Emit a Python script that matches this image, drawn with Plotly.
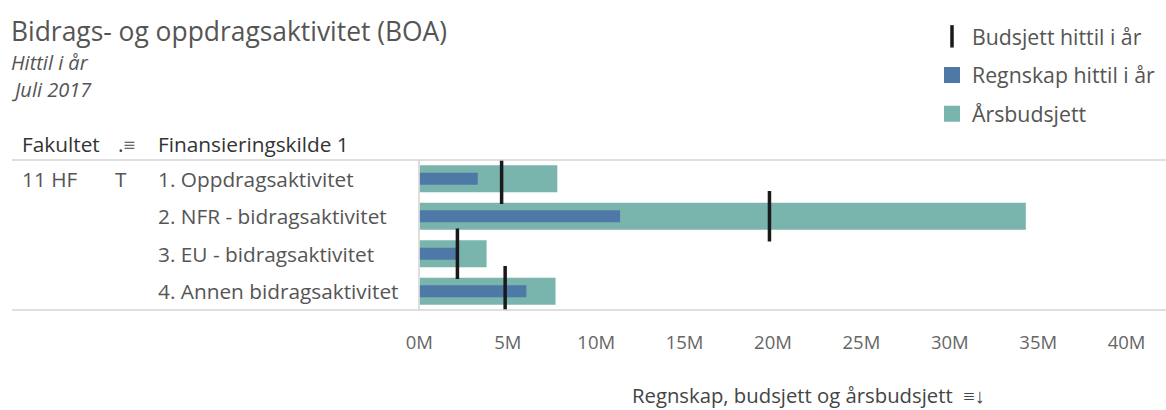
import plotly.graph_objects as go

# ---- data ----
categories = ["1. Oppdragsaktivitet", "2. NFR - bidragsaktivitet",
              "3. EU - bidragsaktivitet", "4. Annen bidragsaktivitet"]
arsbudsjett = [7.8, 34.3, 3.8, 7.7]          # M NOK
regnskap_hittil = [3.3, 11.35, 2.1, 6.05]     # M NOK
budsjett_hittil = [4.65, 19.8, 2.15, 4.85]    # M NOK
tick_vals = [0, 5, 10, 15, 20, 25, 30, 35, 40]
tick_text = ["0M", "5M", "10M", "15M", "20M", "25M", "30M", "35M", "40M"]

W, H = 1166, 410
def px(x): return x / W
def py(y): return 1 - y / H

TEAL = "#79b5ad"
BLUE = "#4e78a6"
TXT = "#555555"
FONT = "Open Sans"
LBL = 20.8

fig = go.Figure()
fig.add_trace(go.Bar(
    y=categories, x=arsbudsjett, orientation="h", name="Årsbudsjett",
    marker=dict(color=TEAL, line=dict(width=0)), width=0.72, showlegend=False))
fig.add_trace(go.Bar(
    y=categories, x=regnskap_hittil, orientation="h", name="Regnskap hittil i år",
    marker=dict(color=BLUE, line=dict(width=0)), width=0.32, showlegend=False))
fig.add_trace(go.Scatter(
    y=categories, x=budsjett_hittil, mode="markers", name="Budsjett hittil i år",
    marker=dict(symbol="line-ns", size=36, line=dict(width=3.5, color="#1a1a1a")),
    legendgroup="a", legendrank=1))
# legend entries for bars (larger square swatches)
fig.add_trace(go.Scatter(x=[None], y=[None], mode="markers", name="Regnskap hittil i år",
                         marker=dict(symbol="square", size=20, color=BLUE),
                         legendgroup="b", legendrank=2))
fig.add_trace(go.Scatter(x=[None], y=[None], mode="markers", name="Årsbudsjett",
                         marker=dict(symbol="square", size=20, color=TEAL),
                         legendgroup="c", legendrank=3))

x_max = (W - 419.4) / 17.68

fig.update_layout(
    width=W, height=H,
    margin=dict(l=0, r=0, t=0, b=0, pad=0, autoexpand=False),
    paper_bgcolor="white", plot_bgcolor="white",
    barmode="overlay",
    font=dict(family=FONT, color=TXT),
    showlegend=True,
    legend=dict(x=px(932), y=py(16), xanchor="left", yanchor="top",
                font=dict(size=21.3, color=TXT, family=FONT),
                tracegroupgap=8, itemsizing="trace", itemwidth=30,
                bgcolor="rgba(0,0,0,0)"),
    xaxis=dict(domain=[px(419.4), 1], range=[0, x_max], showgrid=False,
               zeroline=False, showline=False, tickvals=tick_vals, ticktext=tick_text,
               ticks="", ticklabelstandoff=19, automargin=False,
               tickfont=dict(size=18.5, color="#666666", family=FONT), fixedrange=True),
    yaxis=dict(domain=[py(310), py(160)], range=[3.5, -0.5], showticklabels=False,
               showgrid=False, zeroline=False, showline=False, fixedrange=True,
               automargin=False),
)

shapes = [
    dict(type="line", xref="paper", yref="paper", x0=px(12), x1=1, y0=py(160), y1=py(160),
         line=dict(color="#d4d4d4", width=1.5)),
    dict(type="line", xref="paper", yref="paper", x0=px(12), x1=1, y0=py(310), y1=py(310),
         line=dict(color="#d4d4d4", width=1.5)),
    dict(type="line", xref="paper", yref="paper", x0=px(419), x1=px(419), y0=py(310), y1=py(160),
         line=dict(color="#d4d4d4", width=1.5)),
]
fig.update_layout(shapes=shapes)

ann = []
ann.append(dict(text="Bidrags- og oppdragsaktivitet (BOA)", x=px(9), y=py(31),
                xref="paper", yref="paper", xanchor="left", yanchor="middle",
                showarrow=False, font=dict(size=26.4, color=TXT, family=FONT)))
ann.append(dict(text="<i>Hittil i år</i>", x=px(9), y=py(62), xref="paper", yref="paper",
                xanchor="left", yanchor="middle", showarrow=False,
                font=dict(size=20, color=TXT, family=FONT)))
ann.append(dict(text="<i>Juli 2017</i>", x=px(9), y=py(90), xref="paper", yref="paper",
                xanchor="left", yanchor="middle", showarrow=False,
                font=dict(size=20, color=TXT, family=FONT)))
# header row
for txt, x in [("Fakultet", 20), ("Finansieringskilde 1", 156)]:
    ann.append(dict(text=txt, x=px(x), y=py(144), xref="paper", yref="paper",
                    xanchor="left", yanchor="middle", showarrow=False,
                    font=dict(size=LBL, color="#333333", family=FONT)))
ann.append(dict(text=".≡", x=px(116), y=py(144), xref="paper", yref="paper",
                xanchor="left", yanchor="middle", showarrow=False,
                font=dict(size=21, color="#444444", family=FONT)))
# row dimension labels
ann.append(dict(text="11 HF", x=px(20), y=categories[0], xref="paper", yref="y",
                xanchor="left", yanchor="middle", showarrow=False,
                font=dict(size=LBL, color=TXT, family=FONT)))
ann.append(dict(text="T", x=px(113), y=categories[0], xref="paper", yref="y",
                xanchor="left", yanchor="middle", showarrow=False,
                font=dict(size=LBL, color=TXT, family=FONT)))
for c in categories:
    ann.append(dict(text=c, x=px(156), y=c, xref="paper", yref="y",
                    xanchor="left", yanchor="middle", showarrow=False,
                    font=dict(size=LBL, color=TXT, family=FONT)))
# axis title
ann.append(dict(text="Regnskap, budsjett og årsbudsjett  ≡↓", x=px(808), y=py(395),
                xref="paper", yref="paper", xanchor="center", yanchor="middle",
                showarrow=False, font=dict(size=20.3, color="#444444", family=FONT)))
fig.update_layout(annotations=ann)

fig.write_html("out.html", config={"displayModeBar": False},
               post_script="document.body.style.margin='0';document.body.style.overflow='hidden';")
